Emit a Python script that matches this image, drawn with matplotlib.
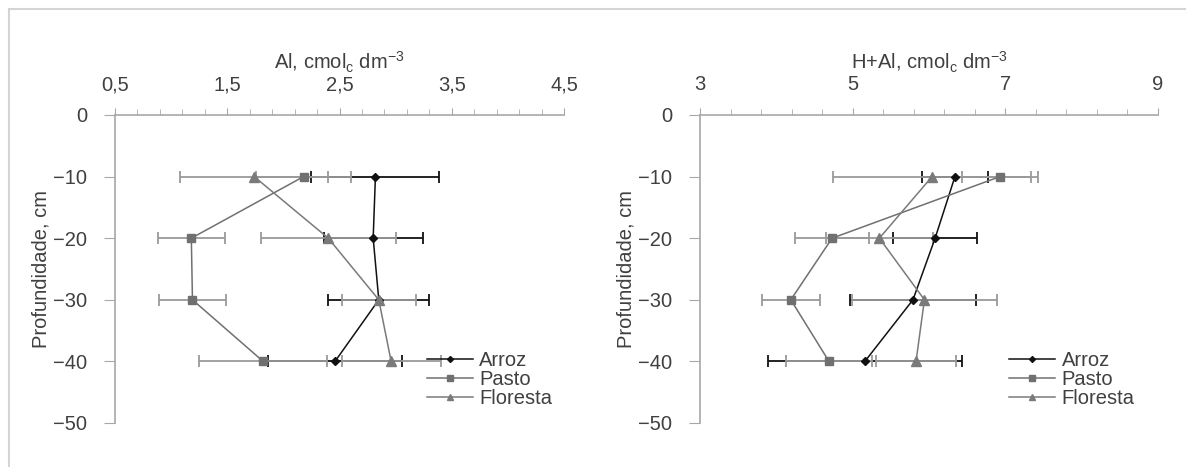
import numpy as np
import matplotlib.pyplot as plt
from matplotlib.ticker import FixedLocator, FuncFormatter
from matplotlib.patches import Rectangle
from matplotlib.lines import Line2D

plt.rcParams['font.family'] = ['Liberation Sans', 'DejaVu Sans']

# profundidade (cm)
profundidade = [-10, -20, -30, -40]

# Al, cmolc dm-3
al_arroz = [2.82, 2.80, 2.85, 2.46]
al_arroz_err = [0.57, 0.44, 0.45, 0.60]
al_pasto = [2.18, 1.18, 1.19, 1.82]
al_pasto_err = [0.42, 0.30, 0.30, 0.57]
al_floresta = [1.74, 2.40, 2.85, 2.96]
al_floresta_err = [0.66, 0.60, 0.33, 0.44]

# H+Al, cmolc dm-3
hal_arroz = [6.34, 6.08, 5.79, 5.16]
hal_arroz_err = [0.43, 0.55, 0.82, 1.27]
hal_pasto = [6.93, 4.73, 4.19, 4.69]
hal_pasto_err = [0.50, 0.48, 0.38, 0.56]
hal_floresta = [6.04, 5.35, 5.94, 5.83]
hal_floresta_err = [1.30, 0.70, 0.95, 0.53]

W, H = 1186, 467
fig = plt.figure(figsize=(W / 100, H / 100), dpi=100)

# moldura do gráfico (estilo Excel)
fig.patches.append(Rectangle((9 / W, -0.1), 1.2, (H - 9) / H + 0.1, transform=fig.transFigure,
                             fill=False, edgecolor='#d4d4d4', lw=1.5))

txt = '#404040'
axcol = '#a8a8a8'
fs = 14.5
estilos = [('Arroz', 'D', '#111111', '#111111', 4.5),
           ('Pasto', 's', '#707070', '#9a9a9a', 6),
           ('Floresta', '^', '#7a7a7a', '#9a9a9a', 6.5)]


def painel(ax, series, xmin, xmax, major, minor, xlabel, fmt, leg_x):
    handles = []
    for (nome, mk, cor, corerr, ms), (vals, errs) in zip(estilos, series):
        ax.errorbar(vals, profundidade, xerr=errs, color=cor, ecolor=corerr, elinewidth=1.3,
                    capsize=4, capthick=1.3, marker=mk, markersize=ms, lw=1.1,
                    clip_on=False)
        handles.append(Line2D([], [], color=cor, marker=mk, markersize=ms - 1.5, lw=1.1, label=nome))
    ax.set_xlim(xmin, xmax)
    ax.set_ylim(-50, 0)
    ax.xaxis.tick_top()
    ax.xaxis.set_label_position('top')
    ax.xaxis.set_major_locator(FixedLocator(major))
    ax.xaxis.set_minor_locator(FixedLocator(minor))
    ax.xaxis.set_major_formatter(FuncFormatter(fmt))
    ax.yaxis.set_major_locator(FixedLocator([0, -10, -20, -30, -40, -50]))
    for s in ['right', 'bottom']:
        ax.spines[s].set_visible(False)
    for s in ['left', 'top']:
        ax.spines[s].set_color(axcol)
        ax.spines[s].set_linewidth(1.2)
    ax.tick_params(axis='x', which='major', direction='out', length=5, color=axcol,
                   labelsize=fs, labelcolor=txt, pad=10)
    ax.tick_params(axis='x', which='minor', direction='out', length=4, color=axcol)
    ax.tick_params(axis='y', direction='out', length=8, color=axcol, labelsize=fs,
                   labelcolor=txt, pad=12)
    ax.set_xlabel(xlabel, fontsize=fs, color=txt, labelpad=4)
    ax.set_ylabel('Profundidade, cm', fontsize=fs, color=txt, labelpad=2)
    leg = ax.legend(handles=handles, loc='lower left', bbox_to_anchor=(leg_x, 0.05),
                    frameon=False, fontsize=fs, handlelength=2.3, handletextpad=0.3,
                    labelspacing=0.0, borderpad=0, borderaxespad=0)
    for t in leg.get_texts():
        t.set_color(txt)


ax1 = fig.add_axes([115 / W, (H - 423) / H, (564 - 115) / W, (423 - 115) / H])
painel(ax1, [(al_arroz, al_arroz_err), (al_pasto, al_pasto_err), (al_floresta, al_floresta_err)],
       0.5, 4.5, np.arange(0.5, 4.6, 1.0), np.arange(0.5, 4.55, 0.2),
       r'Al, cmol$_\mathregular{c}$ dm$^\mathregular{-3}$',
       lambda v, p: f'{v:.1f}'.replace('.', ','), 0.695)

ax2 = fig.add_axes([700 / W, (H - 423) / H, (1158 - 700) / W, (423 - 115) / H])
painel(ax2, [(hal_arroz, hal_arroz_err), (hal_pasto, hal_pasto_err), (hal_floresta, hal_floresta_err)],
       3, 9, np.arange(3, 9.1, 2), np.arange(3, 9.05, 0.4),
       r'H+Al, cmol$_\mathregular{c}$ dm$^\mathregular{-3}$',
       lambda v, p: f'{v:g}', 0.675)

plt.savefig('out.png', dpi=100)
